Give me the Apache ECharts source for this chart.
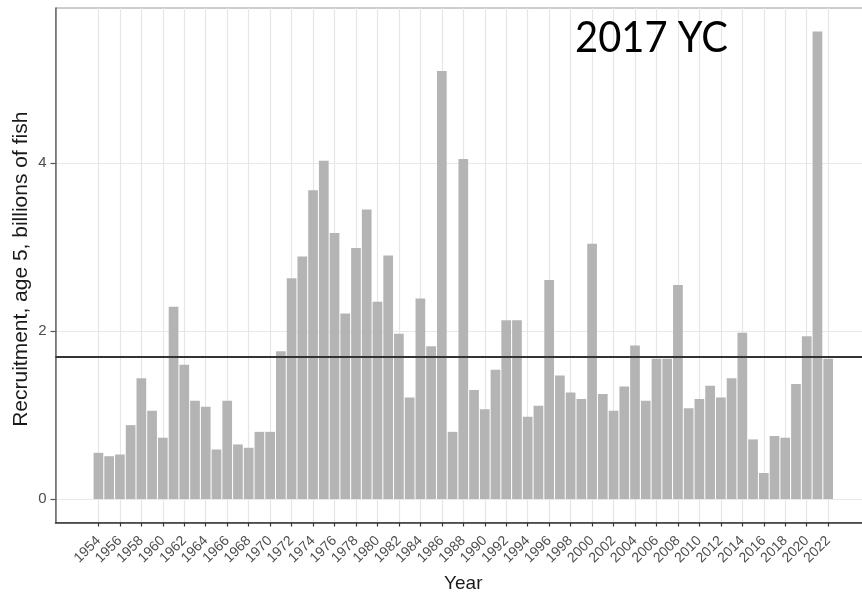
<!DOCTYPE html>
<html>
<head>
<meta charset="utf-8">
<script src="https://cdn.jsdelivr.net/npm/echarts@6/dist/echarts.min.js"></script>
<style>
  html, body { margin: 0; padding: 0; background: #ffffff; }
  #chart { width: 862px; height: 593px; }
</style>
</head>
<body>
<div id="chart"></div>
<script>
// Year classes (age-5 recruitment), billions of fish
const years = [
  1954, 1955, 1956, 1957, 1958, 1959, 1960, 1961, 1962, 1963,
  1964, 1965, 1966, 1967, 1968, 1969, 1970, 1971, 1972, 1973,
  1974, 1975, 1976, 1977, 1978, 1979, 1980, 1981, 1982, 1983,
  1984, 1985, 1986, 1987, 1988, 1989, 1990, 1991, 1992, 1993,
  1994, 1995, 1996, 1997, 1998, 1999, 2000, 2001, 2002, 2003,
  2004, 2005, 2006, 2007, 2008, 2009, 2010, 2011, 2012, 2013,
  2014, 2015, 2016, 2017, 2018, 2019, 2020, 2021, 2022
];
const recruitment = [
  0.55, 0.51, 0.53, 0.88, 1.44, 1.05, 0.73, 2.29, 1.60, 1.17,
  1.10, 0.59, 1.17, 0.65, 0.61, 0.80, 0.80, 1.76, 2.63, 2.89,
  3.68, 4.03, 3.17, 2.21, 2.99, 3.45, 2.35, 2.90, 1.97, 1.21,
  2.39, 1.82, 5.10, 0.80, 4.05, 1.30, 1.07, 1.54, 2.13, 2.13,
  0.98, 1.11, 2.61, 1.47, 1.27, 1.19, 3.04, 1.25, 1.05, 1.34,
  1.83, 1.17, 1.67, 1.67, 2.55, 1.08, 1.19, 1.35, 1.21, 1.44,
  1.98, 0.71, 0.31, 0.75, 0.73, 1.37, 1.94, 5.57, 1.67
];
// Long-term mean recruitment
const meanRecruitment = 1.69;
// Labelled ticks
const xTickYears = [
  1954, 1956, 1958, 1960, 1962, 1964, 1966, 1968, 1970, 1972,
  1974, 1976, 1978, 1980, 1982, 1984, 1986, 1988, 1990, 1992,
  1994, 1996, 1998, 2000, 2002, 2004, 2006, 2008, 2010, 2012,
  2014, 2016, 2018, 2020, 2022
];
const yTicks = [0, 2, 4];
const annotation = '2017 YC';

const barData = years.map((y, i) => [y, recruitment[i]]);

const chart = echarts.init(document.getElementById('chart'), null, { renderer: 'canvas' });
const fontFamily = '"Liberation Sans", Arial, sans-serif';

chart.setOption({
  animation: false,
  backgroundColor: '#ffffff',
  grid: {
    left: 55.5,
    top: 8,
    width: 815.6,
    bottom: 70.5,
    outerBoundsMode: 'none',
    containLabel: false,
    show: true,
    borderColor: '#9a9a9a',
    borderWidth: 1,
    backgroundColor: 'transparent'
  },
  xAxis: {
    type: 'value',
    min: 1950,
    max: 2026,
    interval: 1,
    name: 'Year',
    nameLocation: 'middle',
    nameGap: 52,
    nameTextStyle: { color: '#1a1a1a', fontSize: 19, fontFamily: fontFamily },
    axisLine: { show: true, onZero: false, lineStyle: { color: '#333333', width: 1.6 } },
    axisTick: {
      show: true,
      customValues: xTickYears,
      length: 4,
      lineStyle: { color: '#333333', width: 1.2 }
    },
    axisLabel: {
      show: true,
      customValues: xTickYears,
      rotate: 45,
      margin: 16,
      color: '#4d4d4d',
      fontSize: 14,
      fontFamily: fontFamily,
      formatter: v => String(v)
    },
    splitLine: { show: true, lineStyle: { color: '#e6e6e6', width: 1.2 } }
  },
  yAxis: {
    type: 'value',
    min: -0.28,
    max: 5.85,
    splitNumber: 6,
    name: 'Recruitment, age 5, billions of fish',
    nameLocation: 'middle',
    nameRotate: 90,
    nameGap: 24,
    nameMoveOverlap: false,
    nameTextStyle: { color: '#1a1a1a', fontSize: 21, fontFamily: fontFamily, padding: [0, 8, 0, 0] },
    axisLine: { show: true, onZero: false, lineStyle: { color: '#6a6a6a', width: 1.5 } },
    axisTick: {
      show: true,
      customValues: yTicks,
      length: 5,
      lineStyle: { color: '#555555', width: 1.2 }
    },
    axisLabel: {
      show: true,
      customValues: yTicks,
      margin: 9,
      color: '#4d4d4d',
      fontSize: 15,
      fontFamily: fontFamily,
      formatter: v => String(v)
    },
    splitLine: { show: true, lineStyle: { color: '#e8e8e8', width: 1.2 } }
  },
  series: [
    {
      type: 'bar',
      data: barData,
      barWidth: 9.7,
      itemStyle: { color: '#b4b4b4' },
      silent: true,
      markLine: {
        silent: true,
        symbol: ['none', 'none'],
        label: { show: false },
        lineStyle: { color: '#333333', width: 2.2, type: 'solid' },
        data: [{ yAxis: meanRecruitment }]
      }
    }
  ],
  graphic: [
    {
      type: 'text',
      x: 575,
      y: 17,
      z: 100,
      scaleX: 0.95,
      style: {
        text: annotation,
        fill: '#000000',
        font: '42px Lato, "Open Sans", sans-serif'
      }
    }
  ]
});
</script>
</body>
</html>
